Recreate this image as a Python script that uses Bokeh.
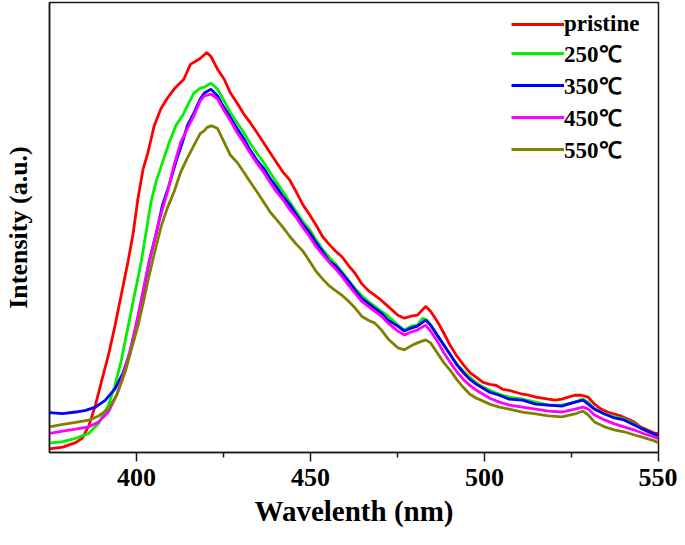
from bokeh.plotting import figure
from bokeh.models import Range1d, FixedTicker, Legend, LegendItem
from bokeh.embed import file_html
from bokeh.resources import INLINE

# ---------------- data ----------------
labels = ["pristine", "250℃", "350℃", "450℃", "550℃"]
colors = ["#ff0000", "#00f000", "#0000ff", "#ff00ff", "#808000"]

wl_pristine = [375.0, 378.8, 382.5, 384.4, 386.3, 388.2, 390.1, 391.9, 393.8, 395.7, 397.6, 399.0,
               400.4, 401.9, 403.3, 405.1, 407.0, 408.9, 410.8, 413.6, 415.5, 418.3, 420.2, 421.4,
               423.3, 425.2, 427.0, 428.9, 430.8, 432.7, 434.6, 436.5, 438.3, 440.2, 442.1, 444.0,
               445.9, 447.8, 449.7, 451.5, 453.4, 455.3, 457.2, 459.1, 461.0, 462.9, 464.7, 466.6,
               468.5, 470.4, 472.3, 475.1, 477.0, 478.9, 480.7, 483.1, 484.5, 486.4, 488.3, 490.2,
               492.0, 493.9, 495.8, 497.7, 499.6, 501.5, 503.4, 505.2, 507.1, 509.0, 510.9, 512.8,
               514.7, 516.6, 518.4, 520.3, 522.2, 524.1, 526.0, 527.9, 529.8, 531.6, 533.5, 535.4,
               537.3, 539.2, 541.1, 542.9, 544.8, 546.7, 548.6, 550.0]
int_pristine = [3.7, 5.5, 10, 14.4, 27, 48, 74, 98, 128, 161, 194, 221,
                257, 287, 304, 331, 348, 359, 368, 378, 393, 399, 405, 401,
                388, 378, 364, 354, 343, 334, 324, 314, 304, 294, 284, 276,
                264, 251, 241, 231, 219, 211, 204, 198, 189, 181, 171, 164,
                159, 154, 148, 139, 136, 138, 139, 148, 143, 133, 121, 108,
                98, 89, 81, 76, 71, 69, 68, 64, 63, 61, 59, 58,
                56, 55, 54, 53, 54, 56, 58, 58, 56, 49, 44, 41,
                39, 37, 34, 31, 26, 23, 20, 19]

wl_250 = [375.0, 378.8, 382.5, 386.3, 389.1, 391.9, 393.8, 395.7, 397.6, 399.5, 401.4, 402.8,
          404.2, 405.6, 407.5, 409.4, 411.3, 413.2, 414.6, 416.5, 418.3, 419.5, 421.4, 423.3,
          425.2, 427.0, 428.9, 430.8, 432.7, 434.6, 436.5, 438.3, 440.2, 442.1, 444.0, 445.9,
          447.8, 449.7, 451.5, 453.4, 455.3, 457.2, 459.1, 461.0, 462.9, 464.7, 466.6, 468.5,
          470.4, 472.3, 475.1, 477.0, 478.9, 480.7, 482.2, 483.6, 485.5, 487.3, 489.2, 491.1,
          493.0, 494.9, 496.8, 498.6, 501.5, 504.3, 507.1, 510.9, 514.7, 518.4, 522.2, 526.0,
          528.3, 529.8, 531.6, 534.5, 537.3, 540.1, 542.9, 545.8, 548.6, 550.0]
int_250 = [9.4, 11, 14.4, 19.4, 29.4, 47.7, 67.7, 94.4, 127.7, 161, 194, 224,
           254, 274, 294, 314, 331, 341, 351, 364, 369, 370, 374, 368,
           356, 344, 334, 324, 313, 303, 294, 284, 274, 264, 254, 244,
           234, 226, 216, 206, 198, 191, 183, 174, 166, 159, 153, 148,
           143, 138, 129, 124, 128, 129, 136, 134, 124, 114, 104, 94,
           86, 79, 73, 68, 63, 59, 56, 54, 51, 48, 48, 51,
           54, 51, 44, 39, 36, 34, 29, 23, 18, 16]

wl_350 = [375.0, 378.8, 382.5, 385.4, 388.2, 391.0, 393.8, 396.2, 398.1, 399.9, 401.9, 403.7,
          405.6, 407.5, 409.4, 411.3, 413.2, 414.6, 416.5, 418.3, 419.5, 421.4, 423.3, 425.2,
          427.0, 428.9, 430.8, 432.7, 434.6, 436.5, 438.3, 440.2, 442.1, 444.0, 445.9, 447.8,
          449.7, 451.5, 453.4, 455.3, 457.2, 459.1, 461.0, 462.9, 464.7, 466.6, 468.5, 470.4,
          472.3, 475.1, 477.0, 478.9, 480.7, 483.1, 484.5, 486.4, 488.3, 490.2, 492.0, 493.9,
          495.8, 497.7, 499.6, 501.5, 504.3, 507.1, 510.9, 514.7, 518.4, 522.2, 526.0, 528.3,
          529.8, 531.6, 534.5, 537.3, 540.1, 542.9, 545.8, 548.6, 550.0]
int_350 = [40.4, 39.4, 41, 42.7, 46, 52.7, 64.4, 81, 101, 128, 161, 194,
           221, 251, 271, 294, 314, 331, 344, 358, 364, 368, 361, 349,
           339, 328, 318, 306, 296, 288, 278, 269, 259, 251, 241, 231,
           223, 213, 204, 194, 189, 181, 173, 164, 156, 151, 146, 141,
           134, 128, 123, 126, 128, 134, 129, 119, 109, 99, 89, 81,
           74, 69, 65, 61, 58, 54, 53, 49, 48, 47, 51, 53,
           49, 44, 39, 35, 33, 28, 23, 19, 17]

wl_450 = [375.0, 378.8, 382.5, 386.3, 389.1, 391.9, 394.3, 396.7, 398.5, 400.4, 401.9, 403.3,
          405.1, 407.0, 408.9, 410.8, 412.7, 414.6, 416.5, 418.3, 419.5, 421.4, 423.3, 425.2,
          427.0, 428.9, 430.8, 432.7, 434.6, 436.5, 438.3, 440.2, 442.1, 444.0, 445.9, 447.8,
          449.7, 451.5, 453.4, 455.3, 457.2, 459.1, 461.0, 462.9, 464.7, 466.6, 468.5, 470.4,
          472.3, 475.1, 477.0, 478.9, 480.7, 483.1, 484.5, 486.4, 488.3, 490.2, 492.0, 493.9,
          495.8, 497.7, 499.6, 501.5, 504.3, 507.1, 510.9, 514.7, 518.4, 522.2, 526.0, 528.3,
          529.8, 531.6, 534.5, 537.3, 540.1, 542.9, 545.8, 548.6, 550.0]
int_450 = [19.4, 21.7, 23.7, 26, 31, 41, 58, 84, 108, 138, 164, 188,
           214, 241, 264, 291, 314, 328, 341, 356, 361, 363, 358, 346,
           336, 324, 314, 303, 293, 284, 274, 264, 256, 246, 238, 228,
           219, 209, 201, 193, 186, 178, 169, 161, 153, 148, 143, 138,
           131, 123, 119, 122, 124, 129, 123, 113, 101, 91, 82, 74,
           68, 63, 59, 55, 51, 48, 46, 44, 42, 41, 44, 46,
           44, 38, 33, 29, 26, 23, 19, 16, 14]

wl_550 = [375.0, 378.8, 382.5, 386.3, 389.1, 391.9, 394.3, 396.7, 398.5, 400.4, 401.9, 403.3,
          405.1, 407.0, 408.9, 410.8, 412.7, 414.6, 416.5, 418.3, 419.5, 420.2, 421.6, 423.3,
          425.2, 427.0, 428.9, 430.8, 432.7, 434.6, 436.5, 438.3, 440.2, 442.1, 444.0, 445.9,
          447.8, 449.7, 451.5, 453.4, 455.3, 457.2, 459.1, 461.0, 462.9, 464.7, 466.6, 468.5,
          470.4, 472.3, 475.1, 477.0, 478.9, 480.7, 483.1, 484.5, 486.4, 488.3, 490.2, 492.0,
          493.9, 495.8, 497.7, 499.6, 501.5, 504.3, 507.1, 510.9, 514.7, 518.4, 522.2, 526.0,
          528.3, 529.8, 531.6, 534.5, 537.3, 540.1, 542.9, 545.8, 548.6, 550.0]
int_550 = [26, 28.4, 30.4, 32.7, 37, 44, 58, 81, 104, 128, 151, 174,
           201, 228, 248, 264, 284, 298, 311, 323, 326, 329, 331, 328,
           314, 301, 294, 284, 274, 264, 254, 244, 236, 228, 219, 211,
           204, 194, 184, 176, 169, 164, 159, 153, 146, 138, 134, 131,
           124, 115, 106, 104, 108, 111, 114, 111, 101, 91, 83, 74,
           66, 59, 55, 52, 49, 46, 44, 41, 39, 37, 36, 39,
           42, 38, 31, 26, 23, 21, 18, 15, 12, 10]

x_ticks = [400, 450, 500, 550]
x_minor_ticks = [425, 475, 525]
x_label = "Wavelenth (nm)"
y_label = "Intensity (a.u.)"

series = [(wl_pristine, int_pristine), (wl_250, int_250), (wl_350, int_350),
          (wl_450, int_450), (wl_550, int_550)]

# ---------------- figure ----------------
FONT = "Liberation Serif"
p = figure(width=677, height=529, output_backend="svg", toolbar_location=None,
           x_range=Range1d(375, 550), y_range=Range1d(0, 455.7),
           min_border_left=43, min_border_right=19, min_border_top=2, min_border_bottom=0)

p.grid.visible = False
p.outline_line_color = "#1a1a1a"
p.outline_line_width = 1.5
p.background_fill_color = "white"
p.border_fill_color = "white"

xa = p.xaxis[0]
xa.ticker = FixedTicker(ticks=x_ticks, minor_ticks=x_minor_ticks)
xa.axis_line_color = "#1a1a1a"
xa.axis_line_width = 1.5
xa.major_tick_in = 0
xa.major_tick_out = 9
xa.minor_tick_in = 0
xa.minor_tick_out = 5
xa.major_tick_line_width = 1.5
xa.minor_tick_line_width = 1.5
xa.major_tick_line_color = "#1a1a1a"
xa.minor_tick_line_color = "#1a1a1a"
xa.major_label_text_font = FONT
xa.major_label_text_font_style = "bold"
xa.major_label_text_font_size = "26px"
xa.major_label_text_color = "black"
xa.major_label_standoff = 7
xa.axis_label = x_label
xa.axis_label_text_font = FONT
xa.axis_label_text_font_style = "bold"
xa.axis_label_text_font_size = "29px"
xa.axis_label_text_color = "black"
xa.axis_label_standoff = 6

ya = p.yaxis[0]
ya.ticker = FixedTicker(ticks=[])
ya.axis_line_color = "#1a1a1a"
ya.axis_line_width = 1.5
ya.major_tick_in = 0
ya.major_tick_out = 0
ya.minor_tick_in = 0
ya.minor_tick_out = 0
ya.major_label_standoff = 0
ya.axis_label = y_label
ya.axis_label_text_font = FONT
ya.axis_label_text_font_style = "bold"
ya.axis_label_text_font_size = "26px"
ya.axis_label_text_color = "black"
ya.axis_label_standoff = 17

items = []
for (wl, iv), lab, col in zip(series, labels, colors):
    r = p.line(wl, iv, line_color=col, line_width=2.8)
    items.append(LegendItem(label=lab, renderers=[r]))

legend = Legend(items=items, location="top_right", margin=9, padding=0,
                glyph_width=53, glyph_height=20, label_standoff=0, label_width=85,
                label_height=20, spacing=0,
                label_text_font=FONT, label_text_font_style="bold",
                label_text_font_size="23px", label_text_color="black",
                border_line_color=None, background_fill_alpha=0)
p.add_layout(legend)

open("out.html", "w").write(file_html(p, INLINE))
